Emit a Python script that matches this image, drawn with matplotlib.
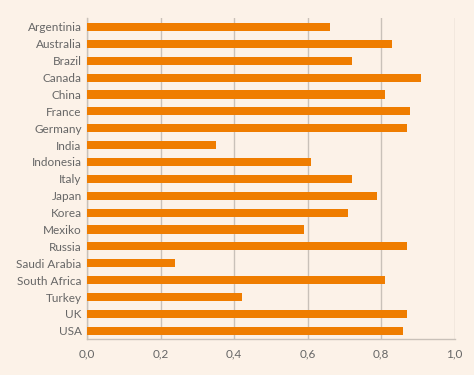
import matplotlib.pyplot as plt

countries = ["Argentinia", "Australia", "Brazil", "Canada", "China", "France",
             "Germany", "India", "Indonesia", "Italy", "Japan", "Korea", "Mexiko",
             "Russia", "Saudi Arabia", "South Africa", "Turkey", "UK", "USA"]
values = [0.66, 0.83, 0.72, 0.91, 0.81, 0.88, 0.87, 0.35, 0.61, 0.72,
          0.79, 0.71, 0.59, 0.87, 0.24, 0.81, 0.42, 0.87, 0.86]
xticks = [0.0, 0.2, 0.4, 0.6, 0.8, 1.0]
xlabels = ["0,0", "0,2", "0,4", "0,6", "0,8", "1,0"]

bg = "#fcf2e8"
grid_col = "#c9c1b9"
text_col = "#666666"

plt.rcParams["font.family"] = ["Lato", "DejaVu Sans"]

fig = plt.figure(figsize=(4.74, 3.75), dpi=100, facecolor=bg)
ax = fig.add_axes([87.3 / 474, 1 - 338.7 / 375, (454.5 - 87.3) / 474, (338.7 - 18) / 375])
ax.set_facecolor(bg)

y = range(len(countries))
ax.barh(y, values, height=0.48, color="#ef7d00", zorder=3)

ax.set_xlim(0, 1.0)
ax.set_ylim(18.47, -0.53)
ax.set_xticks(xticks)
ax.set_xticklabels(xlabels)
ax.set_yticks(list(y))
ax.set_yticklabels(countries)

ax.grid(axis="x", color=grid_col, linewidth=1, zorder=0)
ax.tick_params(length=0, labelsize=8.5, colors=text_col)
ax.tick_params(axis="x", pad=7)
ax.tick_params(axis="y", pad=4)

for s in ["top", "right"]:
    ax.spines[s].set_visible(False)
for s in ["left", "bottom"]:
    ax.spines[s].set_color(grid_col)
    ax.spines[s].set_linewidth(1)

fig.savefig("out.png", dpi=100, facecolor=bg)
